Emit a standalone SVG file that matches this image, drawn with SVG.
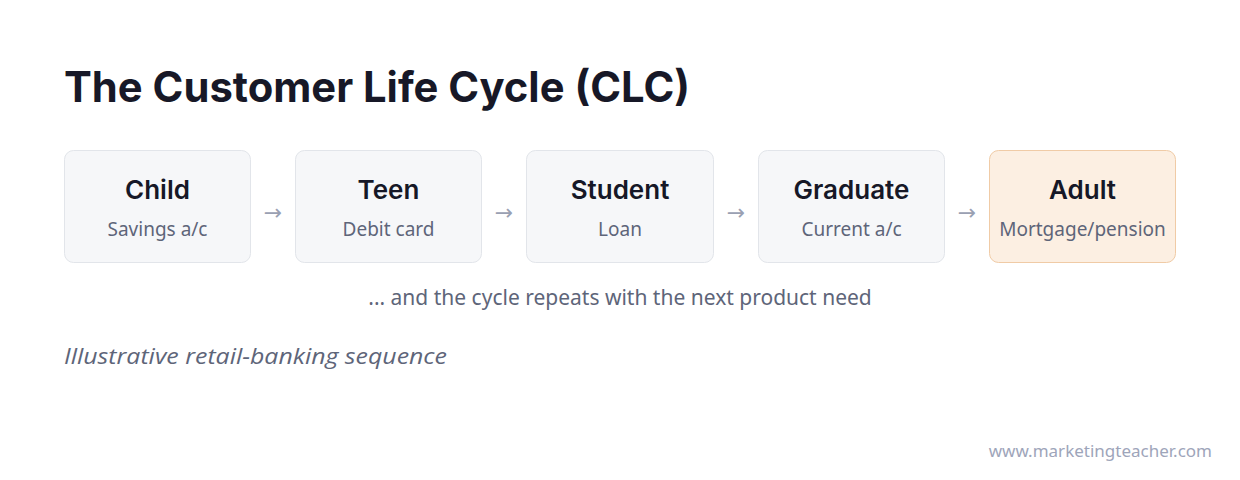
<svg xmlns="http://www.w3.org/2000/svg" width="1240" height="480" viewBox="0 0 1240 480">
<style>
.box{fill:#f6f7f9;stroke:#e2e5ea;stroke-width:1}
.hl{fill:#fcefe2;stroke:#f0cba6;stroke-width:1}
.nt{font-family:Inter,"Liberation Sans",sans-serif;font-weight:600;font-size:26px;fill:#161827;text-anchor:middle}
.ns{font-family:"Noto Sans","Open Sans",sans-serif;font-size:19px;fill:#5e6579;text-anchor:middle}
.arr{font-family:"DejaVu Sans",sans-serif;font-size:22px;fill:#9aa0b2;text-anchor:middle}
</style>
<rect width="1240" height="480" fill="#ffffff"/>
<text x="64" y="102" font-family="Inter,'Liberation Sans',sans-serif" font-weight="700" font-size="42" fill="#171827" textLength="626" lengthAdjust="spacingAndGlyphs">The Customer Life Cycle (CLC)</text>
<g id="child"><rect class="box" x="64.500" y="150.500" width="186" height="112" rx="9"/><text class="nt" x="157.500" y="199">Child</text><text class="ns" x="157.500" y="236">Savings a/c</text></g>
<g id="teen"><rect class="box" x="295.500" y="150.500" width="186" height="112" rx="9"/><text class="nt" x="388.500" y="199">Teen</text><text class="ns" x="388.500" y="236">Debit card</text></g>
<g id="student"><rect class="box" x="526.500" y="150.500" width="187" height="112" rx="9"/><text class="nt" x="620" y="199">Student</text><text class="ns" x="620" y="236">Loan</text></g>
<g id="graduate"><rect class="box" x="758.500" y="150.500" width="186" height="112" rx="9"/><text class="nt" x="851.500" y="199">Graduate</text><text class="ns" x="851.500" y="236">Current a/c</text></g>
<g id="adult"><rect class="hl" x="989.500" y="150.500" width="186" height="112" rx="9"/><text class="nt" x="1082.500" y="199">Adult</text><text class="ns" x="1082.500" y="236">Mortgage/pension</text></g>
<g id="connectors">
<text class="arr" x="273" y="220">→</text>
<text class="arr" x="504" y="220">→</text>
<text class="arr" x="736" y="220">→</text>
<text class="arr" x="967" y="220">→</text>
</g>
<text x="620" y="305" text-anchor="middle" font-family="'Noto Sans','Open Sans',sans-serif" font-size="21" fill="#5e6579">... and the cycle repeats with the next product need</text>
<text x="64" y="364" font-family="'Open Sans','Noto Sans',sans-serif" font-style="italic" font-size="22" fill="#5e6579" textLength="383" lengthAdjust="spacingAndGlyphs">Illustrative retail-banking sequence</text>
<text x="1212" y="457" text-anchor="end" font-family="'Noto Sans','Open Sans',sans-serif" font-size="17" fill="#9ea5ba">www.marketingteacher.com</text>
</svg>
